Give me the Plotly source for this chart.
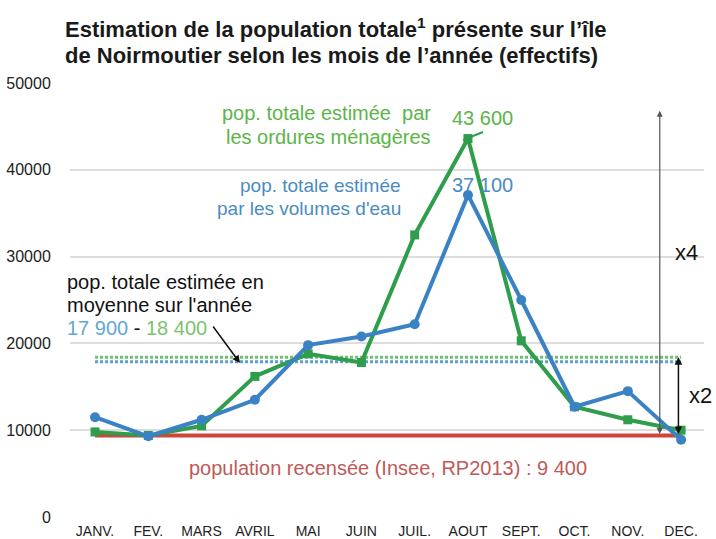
import plotly.graph_objects as go

months = ["JANV.", "FEV.", "MARS", "AVRIL", "MAI", "JUIN", "JUIL.", "AOUT", "SEPT.", "OCT.", "NOV.", "DEC."]
pop_ordures = [9800, 9400, 10500, 16200, 18800, 17800, 32500, 43600, 20300, 12700, 11200, 10000]
pop_eau = [11500, 9300, 11200, 13500, 19800, 20800, 22200, 37100, 25000, 12700, 14500, 8900]
pop_recensee = 9400
moy_eau = 17900
moy_ordures = 18400
y_ticks = [0, 10000, 20000, 30000, 40000, 50000]

W, H = 716, 539
L, R, T, B = 70, 704, 83, 517

def px(x):
    return (x - L) / (R - L)

def py(y):
    return (B - y) / (B - T)

def fmt(v):
    return f"{v:,}".replace(",", " ")

GREEN = "#2f9e4c"
BLUE = "#3a82c4"
RED = "#d0443a"
GREEN_TXT = "#5cb548"
BLUE_TXT = "#4a8cc2"
FONT = "Liberation Sans, Arial, sans-serif"

fig = go.Figure()

fig.add_trace(go.Scatter(x=months, y=[pop_recensee] * len(months), mode="lines",
                         line=dict(color=RED, width=4), hoverinfo="skip"))
fig.add_trace(go.Scatter(x=months, y=[moy_ordures] * len(months), mode="lines",
                         line=dict(color="#6cc070", width=3, dash="3px,2px"), hoverinfo="skip"))
fig.add_trace(go.Scatter(x=months, y=[moy_eau] * len(months), mode="lines",
                         line=dict(color="#5a9fcf", width=3, dash="3px,2px"), hoverinfo="skip"))
fig.add_trace(go.Scatter(x=months, y=pop_ordures, mode="lines+markers",
                         line=dict(color=GREEN, width=4),
                         marker=dict(symbol="square", size=9, color=GREEN)))
fig.add_trace(go.Scatter(x=months, y=pop_eau, mode="lines+markers",
                         line=dict(color=BLUE, width=4),
                         marker=dict(symbol="circle", size=10, color=BLUE)))

ann = []

def text_lines(lines, x_px, ys_px, anchor, size, color, bold=False):
    for line, yp in zip(lines, ys_px):
        ann.append(dict(xref="paper", yref="paper", x=px(x_px), y=py(yp), xanchor=anchor, yanchor="middle",
                        showarrow=False, text=line,
                        font=dict(size=size, color=color, family=FONT, weight="bold" if bold else "normal")))

# title
text_lines(["Estimation de la population totale<sup>1</sup> présente sur l’île",
            "de Noirmoutier selon les mois de l’année (effectifs)"],
           63, [28, 55], "left", 22, "#1a1a1a", bold=True)

text_lines(["pop. totale estimée  par", "les ordures ménagères"], 433, [113, 137], "right", 20, GREEN_TXT)
text_lines([fmt(43600)], 483, [118], "center", 20, GREEN_TXT)
text_lines(["pop. totale estimée", "par les volumes d'eau"], 403, [185, 208], "right", 19, BLUE_TXT)
text_lines([fmt(37100)], 483, [185], "center", 20, BLUE_TXT)
text_lines(["pop. totale estimée en", "moyenne sur l'année",
            f"<span style='color:#5fa8d0'>{fmt(moy_eau)}</span> - <span style='color:#7cc46a'>{fmt(moy_ordures)}</span>"],
           65, [282, 305, 328], "left", 20, "#111111")
text_lines([f"population recensée (Insee, RP2013) : {fmt(pop_recensee)}"], 388, [468], "center", 20, "#c05a58")
text_lines(["x4"], 686, [252], "center", 22, "#111111")
text_lines(["x2"], 714, [395], "right", 22, "#111111")

# arrow to the average lines
ann.append(dict(xref="paper", yref="paper", x=px(240), y=py(363), ax=-28, ay=-38,
                showarrow=True, arrowhead=2, arrowsize=1, arrowwidth=1.5, arrowcolor="#111111", text=""))
# x4 arrow
ann.append(dict(xref="x", yref="y", x=10.6, y=46800, axref="x", ayref="y", ax=10.6, ay=pop_recensee,
                showarrow=True, arrowhead=2, startarrowhead=2, arrowside="end+start",
                arrowsize=1, arrowwidth=1.2, arrowcolor="#555555", text=""))
# x2 arrow
ann.append(dict(xref="x", yref="y", x=10.95, y=moy_ordures, axref="x", ayref="y", ax=10.95, ay=pop_recensee,
                showarrow=True, arrowhead=2, startarrowhead=2, arrowside="end+start",
                arrowsize=1, arrowwidth=1.5, arrowcolor="#111111", text=""))

shapes = [dict(type="line", xref="paper", yref="paper", x0=px(463), y0=py(140), x1=px(483), y1=py(132),
               line=dict(color=GREEN, width=2))]

fig.update_layout(
    width=W, height=H,
    margin=dict(l=L, r=W - R, t=T, b=H - B, autoexpand=False),
    paper_bgcolor="white", plot_bgcolor="white",
    showlegend=False,
    xaxis=dict(type="category", range=[-0.47, 11.43], showgrid=False, showline=False, zeroline=False,
               automargin=False, ticks="outside", ticklen=1, tickcolor="rgba(0,0,0,0)",
               tickfont=dict(size=14, color="#222222", family=FONT)),
    yaxis=dict(range=[0, 50000], tickvals=y_ticks, ticktext=[str(v) for v in y_ticks],
               showgrid=True, gridcolor="#dddddd", gridwidth=1.5, zeroline=False, showline=False,
               automargin=False, ticks="outside", ticklen=15, tickcolor="rgba(0,0,0,0)",
               tickfont=dict(size=16, color="#222222", family=FONT)),
    annotations=ann,
    shapes=shapes,
)

fig.write_html("out.html", config={"displayModeBar": False},
               post_script="document.body.style.margin='0';document.body.style.overflow='hidden';")
